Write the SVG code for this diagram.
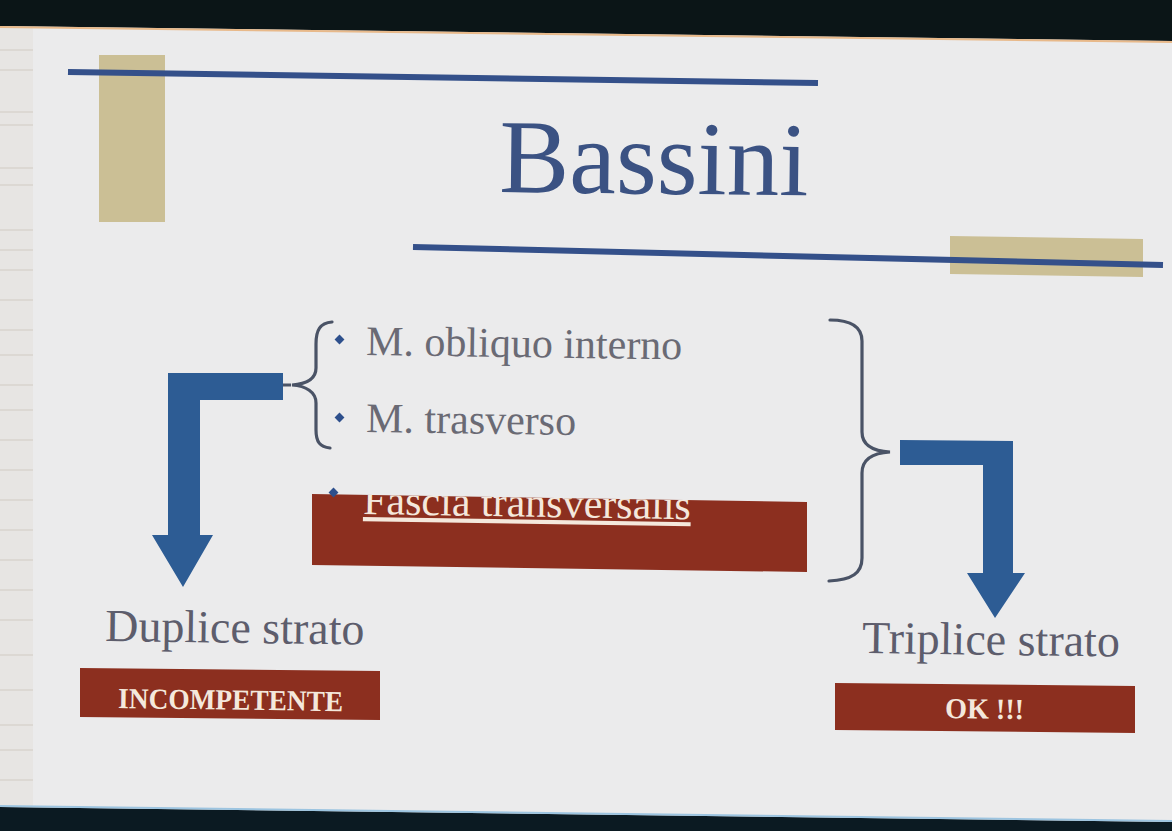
<svg xmlns="http://www.w3.org/2000/svg" width="1172" height="831" viewBox="0 0 1172 831">
<style>
.serif{font-family:"Liberation Serif","Times New Roman",serif}
.item{font-size:42px;fill:#6a6a74}
.lbl{font-size:46px;fill:#5d5d6c}
.btn{font-size:29px;font-weight:bold;fill:#f4e8dc}
.box{fill:#8c2f1f}
.rule{stroke:#34508a;stroke-width:6;stroke-linecap:butt}
.tan{fill:#cbbf95}
.arrow{fill:#2d5c94}
.brace{fill:none;stroke:#4a5366;stroke-width:3.2;stroke-linecap:round}
.dot{fill:#2d4f8c}
</style>
<defs>
<clipPath id="fasciaClip" clipPathUnits="userSpaceOnUse"><polygon points="312,494 807,502 807,572 312,565"/></clipPath>
</defs>
<rect x="0" y="0" width="1172" height="831" fill="#ebebec"/>
<g id="left-strip">
<rect x="0" y="26" width="33" height="785" fill="#e7e5e3"/>
<g stroke="#dcd8d3" stroke-width="2">
<line x1="0" y1="50" x2="33" y2="50"/><line x1="0" y1="70" x2="33" y2="70"/><line x1="0" y1="112" x2="33" y2="112"/>
<line x1="0" y1="125" x2="33" y2="125"/><line x1="0" y1="168" x2="33" y2="168"/><line x1="0" y1="185" x2="33" y2="185"/>
<line x1="0" y1="230" x2="33" y2="230"/><line x1="0" y1="250" x2="33" y2="250"/><line x1="0" y1="270" x2="33" y2="270"/>
<line x1="0" y1="300" x2="33" y2="300"/><line x1="0" y1="330" x2="33" y2="330"/><line x1="0" y1="355" x2="33" y2="355"/>
<line x1="0" y1="385" x2="33" y2="385"/><line x1="0" y1="410" x2="33" y2="410"/><line x1="0" y1="440" x2="33" y2="440"/>
<line x1="0" y1="470" x2="33" y2="470"/><line x1="0" y1="500" x2="33" y2="500"/><line x1="0" y1="530" x2="33" y2="530"/>
<line x1="0" y1="560" x2="33" y2="560"/><line x1="0" y1="590" x2="33" y2="590"/><line x1="0" y1="620" x2="33" y2="620"/>
<line x1="0" y1="655" x2="33" y2="655"/><line x1="0" y1="690" x2="33" y2="690"/><line x1="0" y1="725" x2="33" y2="725"/>
<line x1="0" y1="750" x2="33" y2="750"/><line x1="0" y1="780" x2="33" y2="780"/>
</g>
</g>
<polygon points="0,0 1172,0 1172,41 0,26" fill="#0b1517"/>
<line x1="0" y1="27" x2="1172" y2="42" stroke="#e8b98a" stroke-width="2"/>
<polygon points="0,807 1172,822 1172,831 0,831" fill="#0b1a22"/>
<line x1="0" y1="806" x2="1172" y2="821" stroke="#9cc4e0" stroke-width="2"/>

<g id="decor">
<rect class="tan" x="99" y="55" width="66" height="167"/>
<line class="rule" x1="68" y1="72" x2="818" y2="83"/>
<polygon class="tan" points="950,236 1143,239 1143,277 950,274"/>
<line class="rule" x1="413" y1="247" x2="1163" y2="265"/>
</g>

<g id="title">
<text class="serif" x="499" y="192" font-size="105" fill="#3b5283" transform="rotate(0.6 499 192)">Bassini</text>
</g>

<g id="item-obliquo">
<rect class="dot" x="336" y="336" width="7" height="7" transform="rotate(45 339.5 339.5)"/>
<text class="serif item" x="366" y="355" transform="rotate(0.8 366 355)">M. obliquo interno</text>
</g>
<g id="item-trasverso">
<rect class="dot" x="336" y="414" width="7" height="7" transform="rotate(45 339.5 417.5)"/>
<text class="serif item" x="366" y="432" transform="rotate(0.8 366 432)">M. trasverso</text>
</g>
<g id="item-fascia">
<polygon class="box" points="312,494 807,502 807,572 312,565"/>
<rect class="dot" x="330" y="489" width="7" height="7" transform="rotate(45 333.5 492.5)"/>
<g clip-path="url(#fasciaClip)">
<text class="serif" x="363" y="514" font-size="42" fill="#f4e8dc" text-decoration="underline" transform="rotate(0.9 363 514)">Fascia transversalis</text>
</g>
</g>

<g id="connectors">
<path class="brace" d="M332,322 C320,323 316,330 316,344 L316,368 C316,379 306,384 292,385 C306,386 316,392 316,403 L316,430 C316,442 320,447 330,448"/>
<line x1="283" y1="385" x2="291" y2="385" stroke="#4a5366" stroke-width="3"/>
<path class="brace" d="M830,320 C852,320 862,327 862,341 L862,432 C862,445 872,451 890,452 C872,453 862,460 862,473 L862,558 C862,573 852,580 829,581"/>
<polygon class="arrow" points="283,373 168,373 168,535 152,535 183,587 213,535 200,535 200,400 283,400"/>
<polygon class="arrow" points="900,440 1013,441 1013,573 1025,573 995,618 967,573 983,573 983,465 900,465"/>
</g>

<g id="duplice">
<text class="serif lbl" x="105" y="641" transform="rotate(0.8 105 641)">Duplice strato</text>
</g>
<g id="incompetente">
<polygon class="box" points="80,668 380,671 380,720 80,717"/>
<text class="serif btn" x="118" y="708" textLength="225" lengthAdjust="spacingAndGlyphs" transform="rotate(0.8 118 708)">INCOMPETENTE</text>
</g>
<g id="triplice">
<text class="serif lbl" x="862" y="653" transform="rotate(0.8 862 653)">Triplice strato</text>
</g>
<g id="ok">
<polygon class="box" points="835,683 1135,686 1135,733 835,730"/>
<text class="serif btn" x="945" y="718" textLength="79" lengthAdjust="spacingAndGlyphs" transform="rotate(0.8 945 718)">OK !!!</text>
</g>
</svg>
